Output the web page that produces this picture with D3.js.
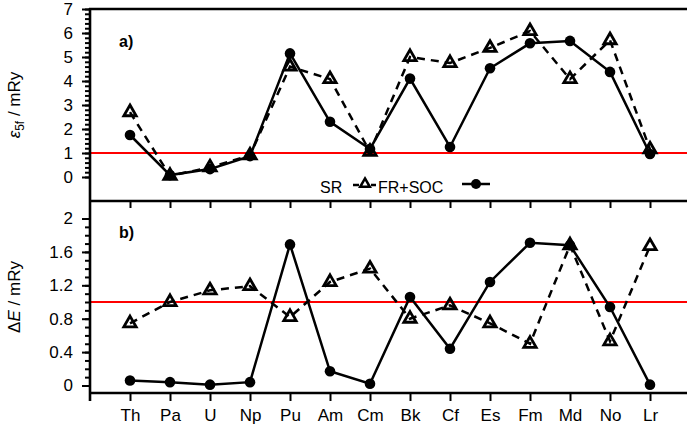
<!DOCTYPE html>
<html>
<head>
<meta charset="utf-8">
<script src="https://cdn.jsdelivr.net/npm/d3@7"></script>
<style>
body { margin: 0; background: #fff; }
text { font-family: "Liberation Sans", Arial, sans-serif; fill: #000; }
</style>
</head>
<body>
<svg id="graph" width="687" height="430"></svg>
<script>
// data
const elements = ["Th", "Pa", "U", "Np", "Pu", "Am", "Cm", "Bk", "Cf", "Es", "Fm", "Md", "No", "Lr"];
// panel a) eps_5f / mRy
const srEps  = [2.7, 0.05, 0.4, 0.9, 4.6, 4.08, 1.05, 5.0, 4.75, 5.38, 6.08, 4.08, 5.7, 1.15];
const socEps = [1.75, 0.08, 0.33, 0.87, 5.15, 2.3, 1.17, 4.1, 1.25, 4.53, 5.57, 5.67, 4.38, 0.96];
// panel b) dE / mRy
const srDE  = [0.745, 1.0, 1.14, 1.19, 0.82, 1.24, 1.40, 0.80, 0.96, 0.745, 0.50, 1.68, 0.53, 1.67];
const socDE = [0.06, 0.04, 0.01, 0.04, 1.69, 0.17, 0.02, 1.06, 0.44, 1.24, 1.71, 1.68, 0.94, 0.01];

const epsTicks = [0, 1, 2, 3, 4, 5, 6, 7];
const deTicks = [0, 0.4, 0.8, 1.2, 1.6, 2];
const epsMinor = d3.range(0, 7.001, 0.2);
const deMinor = d3.range(0, 2.001, 0.1);
const refLine = 1;

const svg = d3.select('#graph');

const left = 90, right = 690;
const x = d3.scalePoint().domain(elements).range([left, right]).padding(1);
const yTop = d3.scaleLinear().domain([-1, 7]).range([201, 9]);
const yBot = d3.scaleLinear().domain([-0.09, 2.21]).range([393, 201]);

// red reference lines
[yTop, yBot].forEach(y => {
    svg.append('line')
        .attr('x1', left).attr('x2', right)
        .attr('y1', y(refLine)).attr('y2', y(refLine))
        .attr('stroke', '#ff0000').attr('stroke-width', 2.2);
});

// y axes, major + minor
function yAxis(y, ticks, minor, fmt) {
    const gMin = svg.append('g').attr('transform', `translate(${left},0)`)
        .call(d3.axisLeft(y).tickValues(minor).tickSize(5).tickFormat(''));
    const gMaj = svg.append('g').attr('transform', `translate(${left},0)`)
        .call(d3.axisLeft(y).tickValues(ticks).tickSize(8).tickPadding(9).tickFormat(fmt));
    [gMin, gMaj].forEach(g => {
        g.select('.domain').remove();
        g.selectAll('line').attr('stroke', '#000').attr('stroke-width', 2);
        g.selectAll('text').style('font-size', '17px')
            .style('font-family', '"Liberation Sans", Arial, sans-serif');
    });
}
yAxis(yTop, epsTicks, epsMinor, d3.format('d'));
yAxis(yBot, deTicks, deMinor, d => d % 1 === 0 ? d3.format('d')(d) : d3.format('.1f')(d));

// x axis (bottom) and inner ticks at the panel divider
const xb = svg.append('g').attr('transform', 'translate(0,393)')
    .call(d3.axisBottom(x).tickSize(8).tickPadding(8));
xb.select('.domain').remove();
xb.selectAll('line').attr('stroke', '#000').attr('stroke-width', 2);
xb.selectAll('text').style('font-size', '17px')
    .style('font-family', '"Liberation Sans", Arial, sans-serif');

const xm = svg.append('g').attr('transform', 'translate(0,201)')
    .call(d3.axisBottom(x).tickSize(7).tickFormat(''));
xm.select('.domain').remove();
xm.selectAll('line').attr('stroke', '#000').attr('stroke-width', 2);

// frame lines
[9, 201, 393].forEach(yy => {
    svg.append('line').attr('x1', left - 1).attr('x2', right)
        .attr('y1', yy).attr('y2', yy)
        .attr('stroke', '#000').attr('stroke-width', 2.6);
});
svg.append('line').attr('x1', left).attr('x2', left)
    .attr('y1', 8).attr('y2', 401)
    .attr('stroke', '#000').attr('stroke-width', 2.6);

// series
const tri = d3.symbol(d3.symbolTriangle, 66);
function drawPanel(y, sr, soc) {
    const srPts = elements.map((e, i) => ({ e, v: sr[i] }));
    const socPts = elements.map((e, i) => ({ e, v: soc[i] }));
    const line = d3.line().x(d => x(d.e)).y(d => y(d.v));

    svg.append('path').datum(socPts).attr('d', line)
        .attr('fill', 'none').attr('stroke', '#000').attr('stroke-width', 2.5);
    svg.append('path').datum(srPts).attr('d', line)
        .attr('fill', 'none').attr('stroke', '#000').attr('stroke-width', 2.5)
        .attr('stroke-dasharray', '8,6');

    svg.append('g').selectAll('circle').data(socPts).join('circle')
        .attr('cx', d => x(d.e)).attr('cy', d => y(d.v)).attr('r', 5.3)
        .attr('fill', '#000');
    svg.append('g').selectAll('path').data(srPts).join('path')
        .attr('d', tri)
        .attr('transform', d => `translate(${x(d.e)},${y(d.v)})`)
        .attr('fill', 'none').attr('stroke', '#000').attr('stroke-width', 2.8)
        .attr('stroke-linejoin', 'miter');
}
drawPanel(yTop, srEps, socEps);
drawPanel(yBot, srDE, socDE);

// panel labels
svg.append('text').attr('x', 119).attr('y', 47).text('a)')
    .style('font-size', '16px').style('font-weight', 'bold');
svg.append('text').attr('x', 119).attr('y', 238).text('b)')
    .style('font-size', '16px').style('font-weight', 'bold');

// axis titles
const t1 = svg.append('text').attr('transform', `translate(20,${(9 + 201) / 2}) rotate(-90)`)
    .attr('text-anchor', 'middle').style('font-size', '17px');
t1.append('tspan').style('font-style', 'italic').text('ε');
t1.append('tspan').attr('dy', 4).style('font-size', '12px').text('5f');
t1.append('tspan').attr('dy', -4).text(' / mRy');

const t2 = svg.append('text').attr('transform', `translate(20,${(201 + 393) / 2}) rotate(-90)`)
    .attr('text-anchor', 'middle').style('font-size', '17px');
t2.append('tspan').text('Δ');
t2.append('tspan').style('font-style', 'italic').text('E');
t2.append('tspan').text(' / mRy');

// legend
const lg = svg.append('g');
lg.append('text').attr('x', 320).attr('y', 193).text('SR').style('font-size', '16px');
lg.append('line').attr('x1', 353).attr('x2', 376).attr('y1', 185).attr('y2', 185)
    .attr('stroke', '#000').attr('stroke-width', 2.5).attr('stroke-dasharray', '6,3');
lg.append('path').attr('d', d3.symbol(d3.symbolTriangle, 40))
    .attr('transform', 'translate(365,184)')
    .attr('fill', '#fff').attr('stroke', '#000').attr('stroke-width', 2.5);
lg.append('text').attr('x', 378).attr('y', 193).text('FR+SOC').style('font-size', '16px');
lg.append('line').attr('x1', 462).attr('x2', 490).attr('y1', 184).attr('y2', 184)
    .attr('stroke', '#000').attr('stroke-width', 2.5);
lg.append('circle').attr('cx', 476).attr('cy', 184).attr('r', 5).attr('fill', '#000');
</script>
</body>
</html>
